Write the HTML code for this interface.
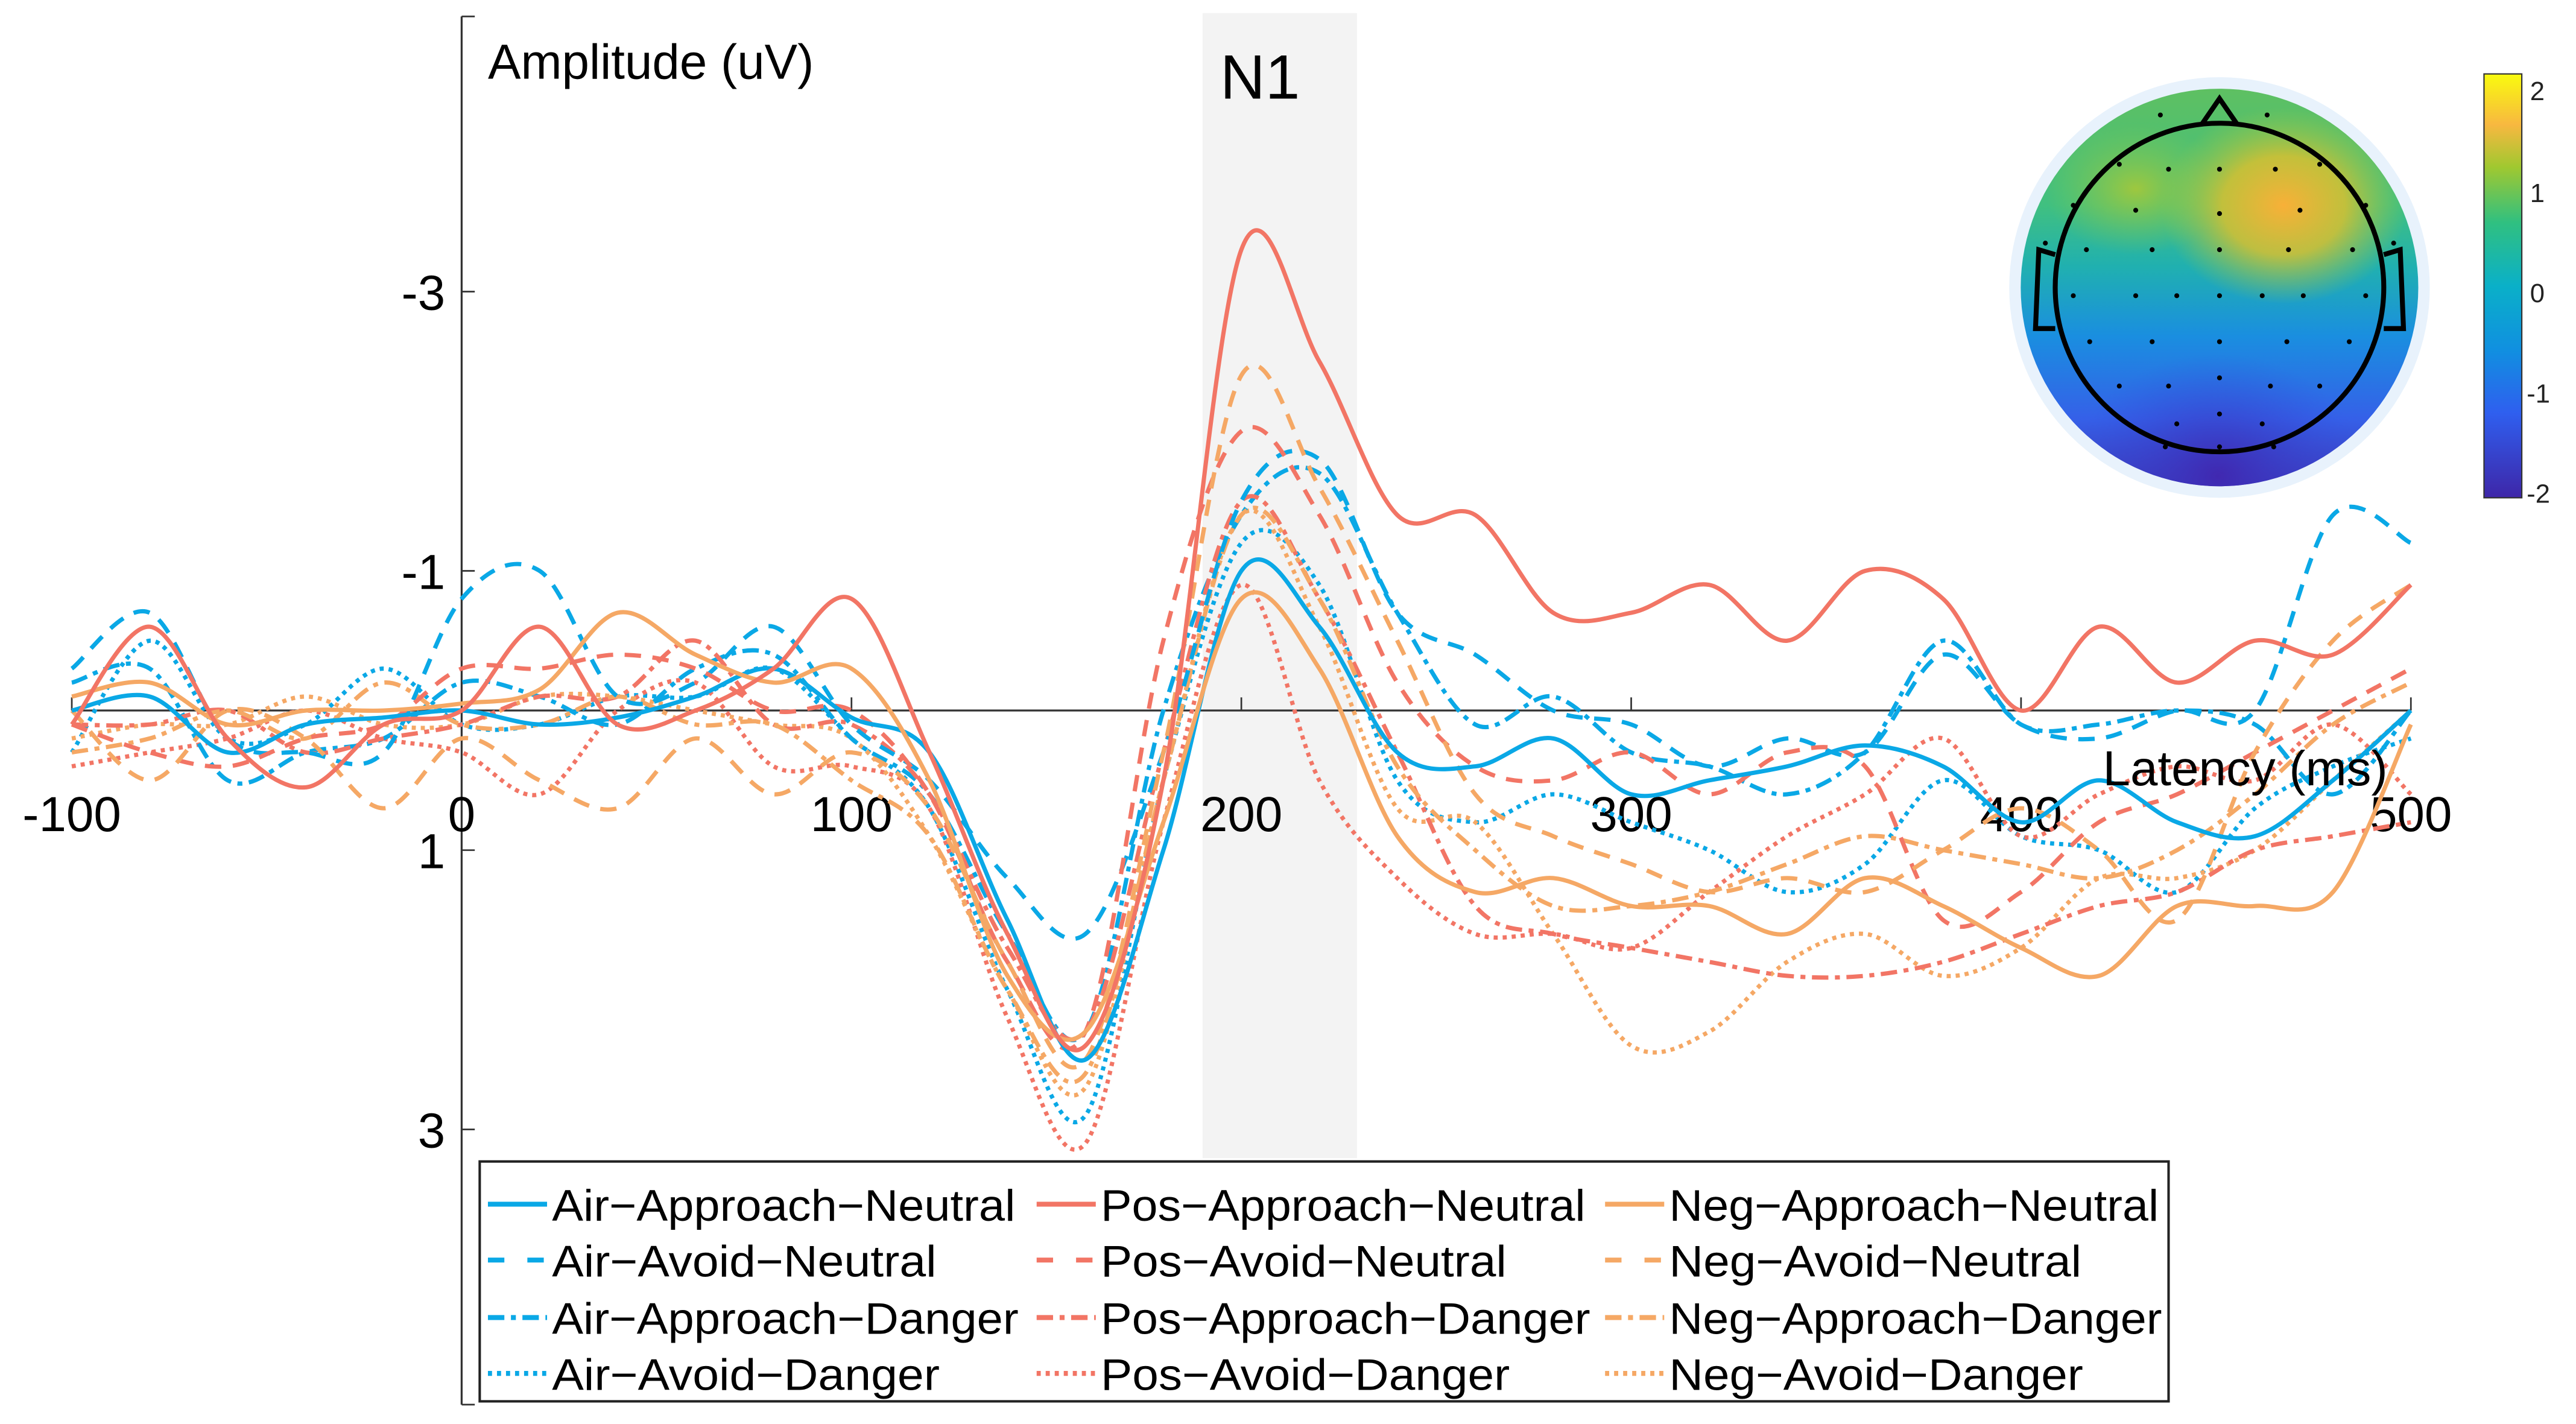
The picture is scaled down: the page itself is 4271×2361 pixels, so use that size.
<!DOCTYPE html>
<html><head><meta charset="utf-8"><style>
html,body{margin:0;padding:0;background:#fff;}
svg{display:block;font-family:"Liberation Sans",sans-serif;}
</style></head><body>
<svg id="chart" width="4271" height="2361" viewBox="0 0 1568 866.8" preserveAspectRatio="none" xmlns="http://www.w3.org/2000/svg">
<defs>
<linearGradient id="cbar" x1="0" y1="1" x2="0" y2="0">
<stop offset="0" stop-color="#3e26a8"/><stop offset="0.2" stop-color="#2f5fef"/><stop offset="0.35" stop-color="#1090e0"/><stop offset="0.5" stop-color="#0ab0c8"/><stop offset="0.65" stop-color="#30c080"/><stop offset="0.78" stop-color="#a0c830"/><stop offset="0.88" stop-color="#f8b840"/><stop offset="1" stop-color="#f9fb0e"/>
</linearGradient>
<linearGradient id="topo" x1="0" y1="0" x2="0" y2="1">
<stop offset="0" stop-color="#60c060"/><stop offset="0.3" stop-color="#40c080"/><stop offset="0.45" stop-color="#20b0b0"/><stop offset="0.62" stop-color="#1a8ee0"/><stop offset="0.82" stop-color="#3560e8"/><stop offset="1" stop-color="#4030b0"/>
</linearGradient>
<radialGradient id="hot" cx="0.5" cy="0.5" r="0.5"><stop offset="0" stop-color="#f8b038" stop-opacity="1"/><stop offset="0.5" stop-color="#d8c030" stop-opacity="0.85"/><stop offset="1" stop-color="#a0c840" stop-opacity="0"/></radialGradient>
<radialGradient id="warm" cx="0.5" cy="0.5" r="0.5"><stop offset="0" stop-color="#a8c838" stop-opacity="0.9"/><stop offset="1" stop-color="#80c850" stop-opacity="0"/></radialGradient>
<radialGradient id="cold" cx="0.5" cy="0.5" r="0.5"><stop offset="0" stop-color="#4028b0" stop-opacity="1"/><stop offset="1" stop-color="#3050e0" stop-opacity="0"/></radialGradient>
<clipPath id="headclip"><circle cx="1351" cy="175" r="121"/></clipPath>
</defs>
<rect x="732" y="8" width="94" height="697" fill="#f3f3f3"/>
<g id="axes"></g>
<g id="series"></g>
<text x="297" y="48" font-size="30">Amplitude (uV)</text>
<text x="767" y="60" font-size="38" text-anchor="middle">N1</text>
<text x="1280" y="478" font-size="30">Latency (ms)</text>
<g>
<circle cx="1351" cy="175" r="128" fill="#e8f2fc"/>
<g clip-path="url(#headclip)">
<rect x="1225" y="50" width="255" height="250" fill="url(#topo)"/>
<ellipse cx="1300" cy="115" rx="55" ry="40" fill="url(#warm)"/>
<ellipse cx="1390" cy="125" rx="75" ry="60" fill="url(#hot)"/>
<ellipse cx="1350" cy="290" rx="90" ry="75" fill="url(#cold)"/>
</g>
<circle cx="1351" cy="175" r="100" fill="none" stroke="#000" stroke-width="3"/>
<path d="M1340 76 L1351 60 L1362 76" fill="none" stroke="#000" stroke-width="3"/>
<path d="M1251 155 L1241 152 L1239 200 L1251 200" fill="none" stroke="#000" stroke-width="3"/>
<path d="M1451 155 L1461 152 L1463 200 L1451 200" fill="none" stroke="#000" stroke-width="3"/>
<g id="dots"></g>
</g>
<g>
<rect x="1512" y="45" width="23" height="258" fill="url(#cbar)" stroke="#333" stroke-width="0.8"/>
<g font-size="16" fill="#222">
<text x="1540" y="61">2</text><text x="1540" y="123">1</text><text x="1540" y="184">0</text><text x="1538" y="245">-1</text><text x="1538" y="306">-2</text>
</g>
</g>
<g id="legend"></g>
</svg>
<script>
const times = [-100,-80,-60,-40,-20,0,20,40,60,80,100,120,140,160,180,200,220,240,260,280,300,320,340,360,380,400,420,440,460,480,500];
const airApproachNeutral = [0,-0.1,0.3,0.1,0.05,0,0.1,0.05,-0.1,-0.3,0.05,0.3,1.5,2.5,1.0,-1.0,-0.6,0.3,0.4,0.2,0.6,0.5,0.4,0.25,0.4,0.8,0.5,0.8,0.9,0.5,0];
const airAvoidNeutral = [-0.3,-0.7,0.2,0.3,0.3,-0.8,-1.0,-0.1,-0.2,-0.6,0.1,0.5,1.2,1.6,0.3,-1.5,-1.8,-0.7,-0.4,0,0.1,0.4,0.2,0.3,-0.4,0.1,0.2,0,0,-1.4,-1.2];
const airApproachDanger = [-0.2,-0.3,0.5,0.3,0.2,-0.2,-0.1,0.1,-0.3,-0.4,0.2,0.6,1.6,2.3,0,-1.4,-1.7,-0.7,0.1,-0.1,0.3,0.4,0.6,0.3,-0.5,0.1,0.1,0,0.1,0.6,0];
const airAvoidDanger = [0.3,-0.5,0.2,0.1,-0.3,0.1,0.1,-0.1,-0.1,-0.3,0.2,0.7,2.0,2.9,0.5,-1.2,-0.9,0.5,0.8,0.6,0.8,1.0,1.3,1.1,0.5,0.9,1.0,1.3,0.7,0.4,0.2];
const posApproachNeutral = [0.1,-0.6,0.2,0.55,0.1,0,-0.6,0.1,0,-0.3,-0.8,0.3,1.6,2.4,0.5,-3.3,-2.5,-1.4,-1.4,-0.7,-0.7,-0.9,-0.5,-1.0,-0.8,0,-0.6,-0.2,-0.5,-0.4,-0.9];
const posAvoidNeutral = [0.1,0.3,0.4,0.2,0.1,-0.3,-0.3,-0.4,-0.3,0,0,0.6,1.8,2.3,-0.5,-2.0,-1.4,-0.2,0.4,0.5,0.3,0.6,0.3,0.4,1.5,1.3,0.8,0.6,0.3,0,-0.3];
const posApproachDanger = [0.1,0.1,0,0.3,0.2,0.1,-0.1,-0.1,-0.5,0.1,0.1,0.6,1.7,2.3,0.3,-1.5,-0.8,0.3,1.4,1.6,1.7,1.8,1.9,1.9,1.8,1.6,1.4,1.3,1.0,0.9,0.8];
const posAvoidDanger = [0.4,0.3,0.2,0,0.2,0.3,0.6,0,-0.2,0.4,0.4,0.7,2.2,3.1,0.8,-0.9,0.5,1.2,1.6,1.6,1.7,1.3,0.9,0.6,0.2,0.9,0.6,0.4,0.5,0.1,0.6];
const negApproachNeutral = [-0.1,-0.2,0.1,0,0,-0.05,-0.15,-0.7,-0.4,-0.2,-0.3,0.5,1.9,2.3,0.8,-0.8,-0.3,0.9,1.3,1.2,1.4,1.4,1.6,1.2,1.4,1.7,1.9,1.4,1.4,1.3,0.1];
const negAvoidNeutral = [0,0.5,0,0.2,0.7,0.2,0.5,0.7,0.2,0.6,0.3,0.7,1.8,2.5,0.3,-2.4,-1.6,-0.5,0.6,0.9,1.1,1.3,1.2,1.3,1.0,0.7,1.0,1.5,0.3,-0.5,-0.9];
const negApproachDanger = [0.3,0.2,0,0.2,-0.2,0.1,0.1,-0.1,0.1,0.1,0.5,0.9,2.0,2.6,0.5,-1.4,-0.8,0.4,1.0,1.4,1.4,1.3,1.1,0.9,1.0,1.1,1.2,1.0,0.6,0.1,-0.2];
const negAvoidDanger = [0.2,0.1,0.1,-0.1,0.1,0.1,-0.1,-0.1,0,0.1,0.2,0.9,2.0,2.7,0.5,-1.4,-0.6,0.7,0.8,1.6,2.4,2.3,1.8,1.6,1.9,1.7,1.2,1.2,1.0,0.5,0];
const xTicks = [-100,0,100,200,300,400,500];
const yTicks = [-3,-1,1,3];
const seriesNames = ["Air\u2212Approach\u2212Neutral","Air\u2212Avoid\u2212Neutral","Air\u2212Approach\u2212Danger","Air\u2212Avoid\u2212Danger","Pos\u2212Approach\u2212Neutral","Pos\u2212Avoid\u2212Neutral","Pos\u2212Approach\u2212Danger","Pos\u2212Avoid\u2212Danger","Neg\u2212Approach\u2212Neutral","Neg\u2212Avoid\u2212Neutral","Neg\u2212Approach\u2212Danger","Neg\u2212Avoid\u2212Danger"];
const allSeries = [airApproachNeutral,airAvoidNeutral,airApproachDanger,airAvoidDanger,posApproachNeutral,posAvoidNeutral,posApproachDanger,posAvoidDanger,negApproachNeutral,negAvoidNeutral,negApproachDanger,negAvoidDanger];

const NS="http://www.w3.org/2000/svg";
const xs = t => 281 + (t/100)*237.3;
const ys = v => 432.5 + v*85;
const colors=["#0aa8e6","#f27565","#f5a865"];
const dashes=["none","10 7","10 4 3 4","2.5 3"];
const legendTextW=[282,234,284,236,295,247,298,249,298,251,300,252];
function mk(tag,parent){const e=document.createElementNS(NS,tag);parent.appendChild(e);return e;}

const ax=document.getElementById('axes');
let l=mk('line',ax);


l.setAttribute('x1',281);l.setAttribute('x2',281);l.setAttribute('y1',10);l.setAttribute('y2',855);l.setAttribute('stroke','#333');l.setAttribute('stroke-width',1.2);
l=mk('line',ax);


l.setAttribute('x1',xs(-100));l.setAttribute('x2',xs(500));l.setAttribute('y1',ys(0));l.setAttribute('y2',ys(0));l.setAttribute('stroke','#333');l.setAttribute('stroke-width',1.2);
l=mk('line',ax);


l.setAttribute('x1',281);l.setAttribute('x2',289);l.setAttribute('y1',10);l.setAttribute('y2',10);l.setAttribute('stroke','#333');
l=mk('line',ax);


l.setAttribute('x1',281);l.setAttribute('x2',289);l.setAttribute('y1',855);l.setAttribute('y2',855);l.setAttribute('stroke','#333');
xTicks.forEach(t=>{
  const tk=mk('line',ax);
  
  
  tk.setAttribute('x1',xs(t));tk.setAttribute('x2',xs(t));tk.setAttribute('y1',ys(0));tk.setAttribute('y2',ys(0)-8);tk.setAttribute('stroke','#333');
  const tx=mk('text',ax);
  
  
  tx.setAttribute('x',xs(t));tx.setAttribute('y',506);tx.setAttribute('font-size',30);tx.setAttribute('text-anchor','middle');tx.textContent=t;
});
yTicks.forEach(v=>{
  const tk=mk('line',ax);
  
  
  tk.setAttribute('x1',281);tk.setAttribute('x2',289);tk.setAttribute('y1',ys(v));tk.setAttribute('y2',ys(v));tk.setAttribute('stroke','#333');
  const tx=mk('text',ax);
  
  
  tx.setAttribute('x',271);tx.setAttribute('y',ys(v)+11);tx.setAttribute('font-size',30);tx.setAttribute('text-anchor','end');tx.textContent=v;
});

function pathD(vals){
  const p=vals.map((v,i)=>[xs(times[i]),ys(v)]);
  let d=`M${p[0][0]},${p[0][1]}`;
  for(let i=0;i<p.length-1;i++){
    const p0=p[Math.max(i-1,0)],p1=p[i],p2=p[i+1],p3=p[Math.min(i+2,p.length-1)];
    const c1=[p1[0]+(p2[0]-p0[0])/6,p1[1]+(p2[1]-p0[1])/6];
    const c2=[p2[0]-(p3[0]-p1[0])/6,p2[1]-(p3[1]-p1[1])/6];
    d+=` C${c1[0]},${c1[1]} ${c2[0]},${c2[1]} ${p2[0]},${p2[1]}`;
  }
  return d;
}
const sg=document.getElementById('series');
const order=[3,7,11,2,6,10,1,5,9,0,8,4];
order.forEach(k=>{
  const pth=mk('path',sg);
  
  
  pth.setAttribute('d',pathD(allSeries[k]));
  pth.setAttribute('fill','none');
  pth.setAttribute('stroke',colors[Math.floor(k/4)]);
  pth.setAttribute('stroke-width',2.6);
  if(dashes[k%4]!=='none')pth.setAttribute('stroke-dasharray',dashes[k%4]);
});

const dg=document.getElementById('dots');
const dotRows=[[1315,70],[1380,70],[1290,100],[1320,103],[1351,103],[1385,103],[1412,100],[1262,125],[1300,128],[1351,130],[1400,128],[1440,125],[1270,152],[1310,152],[1351,152],[1393,152],[1432,152],[1262,180],[1300,180],[1325,180],[1351,180],[1377,180],[1402,180],[1440,180],[1272,208],[1310,208],[1351,208],[1392,208],[1430,208],[1290,235],[1320,235],[1351,230],[1382,235],[1412,235],[1325,258],[1351,252],[1377,258],[1318,272],[1351,272],[1384,272],[1245,148],[1457,148]];
dotRows.forEach(p=>{
  const c=mk('circle',dg);
  
  
  c.setAttribute('cx',p[0]);c.setAttribute('cy',p[1]);c.setAttribute('r',1.5);c.setAttribute('fill','#000');
});

const lg=document.getElementById('legend');
const box=mk('rect',lg);


box.setAttribute('x',292);box.setAttribute('y',707);box.setAttribute('width',1028);box.setAttribute('height',146);box.setAttribute('fill','#fff');box.setAttribute('stroke','#222');box.setAttribute('stroke-width',1.5);
const colX=[297,631,977];
const rowY=[733,767,802,836];
seriesNames.forEach((n,k)=>{
  const c=Math.floor(k/4),r=k%4;
  const ln=mk('line',lg);
  
  
  ln.setAttribute('x1',colX[c]);ln.setAttribute('x2',colX[c]+36);ln.setAttribute('y1',rowY[r]);ln.setAttribute('y2',rowY[r]);
  ln.setAttribute('stroke',colors[c]);ln.setAttribute('stroke-width',3);
  if(dashes[r]!=='none')ln.setAttribute('stroke-dasharray',r===1?'10 14':dashes[r]);
  const tx=mk('text',lg);
  
  
  tx.setAttribute('x',colX[c]+39);tx.setAttribute('y',rowY[r]+10);tx.setAttribute('font-size',27);
  tx.setAttribute('textLength',legendTextW[k]);tx.setAttribute('lengthAdjust','spacingAndGlyphs');
  tx.textContent=n;
});
</script>
</body></html>
